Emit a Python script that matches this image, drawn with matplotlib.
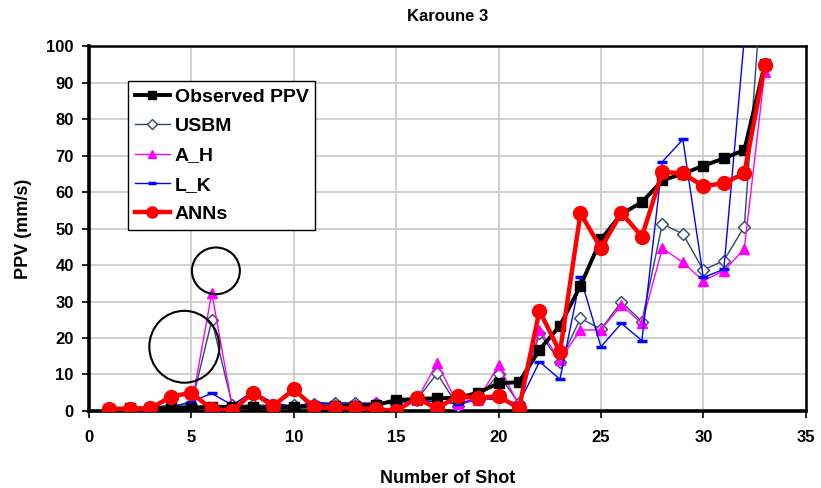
import numpy as np
import matplotlib
matplotlib.use("Agg")
import matplotlib.pyplot as plt
from matplotlib.patches import Ellipse

plt.rcParams["font.family"] = ["Liberation Sans", "DejaVu Sans"]
plt.rcParams["font.weight"] = "bold"

shots = np.arange(1, 34)

observed = [0.6, 0.7, 0.7, 0.8, 0.9, 1.2, 1.1, 1.0, 1.0, 1.1, 1.2, 1.3, 1.5, 1.6,
            3.0, 3.3, 3.5, 3.6, 5.0, 7.6, 7.9, 16.8, 23.4, 34.3, 47.0, 54.0, 57.2,
            63.2, 65.0, 67.2, 69.2, 71.5, 95.0]
usbm = [0.8, 0.9, 1.0, 1.6, 1.6, 24.9, 1.6, 1.6, 1.6, 1.6, 1.8, 2.3, 2.3, 2.1,
        2.0, 3.0, 10.3, 1.4, 3.5, 10.0, 2.1, 21.3, 13.5, 25.4, 22.4, 29.9, 24.5,
        51.3, 48.5, 38.6, 41.2, 50.5, 128.0]
a_h = [0.3, 0.4, 0.5, 0.6, 1.2, 32.4, 1.0, 1.2, 1.2, 1.2, 1.4, 1.8, 1.8, 2.5,
       2.0, 3.0, 13.1, 2.0, 3.0, 12.6, 1.5, 22.2, 14.0, 22.2, 22.2, 29.0, 24.0,
       44.6, 40.7, 35.7, 38.4, 44.4, 93.0]
l_k = [0.5, 0.6, 0.7, 1.0, 2.6, 4.8, 1.6, 5.3, 2.3, 1.1, 2.5, 1.9, 2.0, 2.0,
       2.2, 3.0, 2.5, 2.0, 3.5, 3.0, 2.1, 13.5, 8.7, 36.6, 17.6, 24.0, 19.3,
       68.3, 74.4, 36.6, 38.8, 102.0, 300.0]
anns = [0.5, 0.5, 0.7, 3.9, 5.0, 0.5, 0.1, 5.0, 1.4, 5.9, 1.0, 0.8, 0.7, 0.5,
        0.0, 3.5, 0.7, 4.1, 3.5, 4.1, 0.7, 27.5, 16.1, 54.2, 44.6, 54.3, 47.8,
        65.5, 65.1, 61.6, 62.4, 65.1, 94.8]

fig = plt.figure(figsize=(8.21, 4.88), dpi=100)
ax = fig.add_axes([0.1083, 0.1578, 0.8731, 0.7479])

ax.plot(shots, observed, color="black", lw=2.8, marker="s", ms=6.5, label="Observed PPV", zorder=5)
ax.plot(shots, usbm, color="#2b4a6b", lw=1.0, marker="D", ms=6.5, mfc="white", mec="#2b4a6b",
        mew=1.0, label="USBM", zorder=3)
ax.plot(shots, a_h, color="#ff00ff", lw=1.0, marker="^", ms=7.5, label="A_H", zorder=3)
ax.plot(shots, l_k, color="#0000ff", lw=1.0, marker="_", ms=7, mew=2.5, label="L_K", zorder=4)
ax.plot(shots, anns, color="#ff0000", lw=3.2, marker="o", ms=10, label="ANNs", zorder=6)

# circled points around shots 5-6
ax.add_patch(Ellipse((4.66, 17.6), 3.42, 19.7, fill=False, ec="black", lw=1.5, zorder=7))
ax.add_patch(Ellipse((6.2, 38.4), 2.34, 12.8, fill=False, ec="black", lw=1.5, zorder=7))

ax.set_xlim(0, 35)
ax.set_ylim(0, 100)
ax.set_xticks(range(0, 36, 5))
ax.set_yticks(range(0, 101, 10))
ax.grid(True, color="#c8c8c8", lw=1.2)
ax.set_axisbelow(True)
for side in ["left", "bottom"]:
    ax.spines[side].set_linewidth(2.6)
for side in ["top", "right"]:
    ax.spines[side].set_linewidth(1.8)
ax.tick_params(direction="out", length=5, width=1.2, labelsize=12)
ax.tick_params(axis="x", pad=9)
ax.tick_params(axis="y", pad=6)

ax.set_title("Karoune 3", fontsize=12, fontweight="bold", pad=18)
ax.set_xlabel("Number of Shot", fontsize=13, fontweight="bold", labelpad=18)
ax.set_ylabel("PPV (mm/s)", fontsize=13, fontweight="bold", labelpad=10)

leg = ax.legend(loc="upper left", bbox_to_anchor=(0.0545, 0.903), borderaxespad=0,
                fancybox=False, edgecolor="black", framealpha=1, fontsize=14,
                handlelength=1.8, handletextpad=0.25, labelspacing=0.6, borderpad=0.35,
                markerscale=0.8)
leg.get_frame().set_linewidth(1.0)
leg.set_zorder(10)

fig.savefig("out.png", dpi=100)
